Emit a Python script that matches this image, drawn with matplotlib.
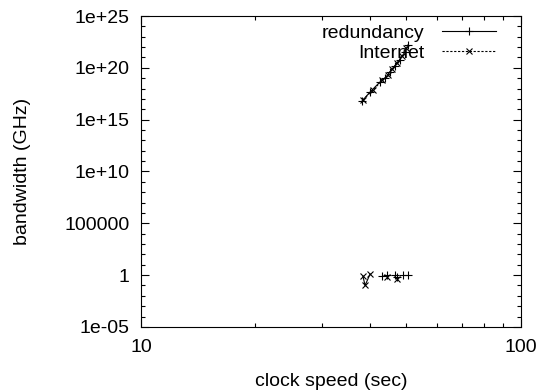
import numpy as np
import matplotlib
matplotlib.use('Agg')
from matplotlib import pyplot as plt
from matplotlib.ticker import NullFormatter, FixedLocator

plt.rcParams['font.family'] = ['Liberation Sans', 'DejaVu Sans']

# upper cluster (both series follow the same rising trend)
red_x = [38.2, 40.1, 42.6, 43.9, 45.2, 46.6, 48.0, 49.5, 50.4]
red_y = [10**16.8, 10**17.67, 10**18.64, 10**19.0, 10**19.6, 10**20.2, 10**20.8, 10**21.5, 10**22.2]
net_x = [38.4, 40.8, 43.2, 44.6, 45.9, 47.3, 48.7, 50.0]
net_y = [10**16.9, 10**17.86, 10**18.8, 10**19.3, 10**19.9, 10**20.5, 10**21.1, 10**21.9]

# lower cluster near 1
red_lo_x = [43.1, 46.6, 48.9, 50.4]
red_lo_y = [10**-0.1, 10**0.0, 10**0.0, 10**0.0]
net_lo_x = [38.4, 38.9, 40.1]
net_lo_y = [10**-0.1, 10**-1.0, 10**0.1]
net_lo2_x = [44.3, 47.1]
net_lo2_y = [10**-0.2, 10**-0.4]

fig = plt.figure(figsize=(5.42, 3.91), dpi=100)
ax = fig.add_axes([0.260, 0.164, 0.701, 0.795])

ax.plot(red_x, red_y, 'k-', marker='+', ms=6, lw=0.8, mew=0.8, label='redundancy')
ax.plot(net_x, net_y, 'k--', marker='x', ms=4.5, lw=0.8, mew=0.8, dashes=(2, 1.5), label='Internet')
ax.plot(red_lo_x, red_lo_y, 'k', ls='none', marker='+', ms=6, mew=0.8)
ax.plot(net_lo_x, net_lo_y, 'k-', marker='x', ms=4.5, lw=0.8, mew=0.8)
ax.plot(net_lo2_x, net_lo2_y, 'k', ls='none', marker='x', ms=4.5, mew=0.8)
ax.plot(net_lo2_x, [v * 1.6 for v in net_lo2_y], 'k', ls='none', marker='+', ms=6, mew=0.8)

ax.set_xscale('log')
ax.set_yscale('log')
ax.set_xlim(10, 100)
ax.set_ylim(1e-5, 1e25)

ax.xaxis.set_major_locator(FixedLocator([10, 100]))
ax.set_xticklabels(['10', '100'])
ax.xaxis.set_minor_locator(FixedLocator(list(range(20, 100, 10))))
ax.xaxis.set_minor_formatter(NullFormatter())

yt = [1e-5, 1, 1e5, 1e10, 1e15, 1e20, 1e25]
ax.yaxis.set_major_locator(FixedLocator(yt))
ax.set_yticklabels(['1e-05', '1', '100000', '1e+10', '1e+15', '1e+20', '1e+25'])
ax.yaxis.set_minor_locator(FixedLocator([10.0**k for k in range(-5, 26) if k % 5 != 0]))
ax.yaxis.set_minor_formatter(NullFormatter())

ax.tick_params(which='both', direction='in', top=True, right=True, labelsize=14)
ax.tick_params(axis='y', pad=8)
ax.tick_params(axis='x', pad=9)
ax.tick_params(which='major', length=6, width=0.8)
ax.tick_params(which='minor', length=3, width=0.8)
for s in ax.spines.values():
    s.set_linewidth(0.8)

ax.set_xlabel('clock speed (sec)', fontsize=14, labelpad=12)
ax.set_ylabel('bandwidth (GHz)', fontsize=14, labelpad=24)

ax.legend(loc='upper right', bbox_to_anchor=(0.945, 0.985), frameon=False, markerfirst=False,
          fontsize=14, handlelength=2.8, handletextpad=0.9, labelspacing=0.1,
          borderaxespad=0, borderpad=0.2)

fig.savefig('out.png', dpi=100)
